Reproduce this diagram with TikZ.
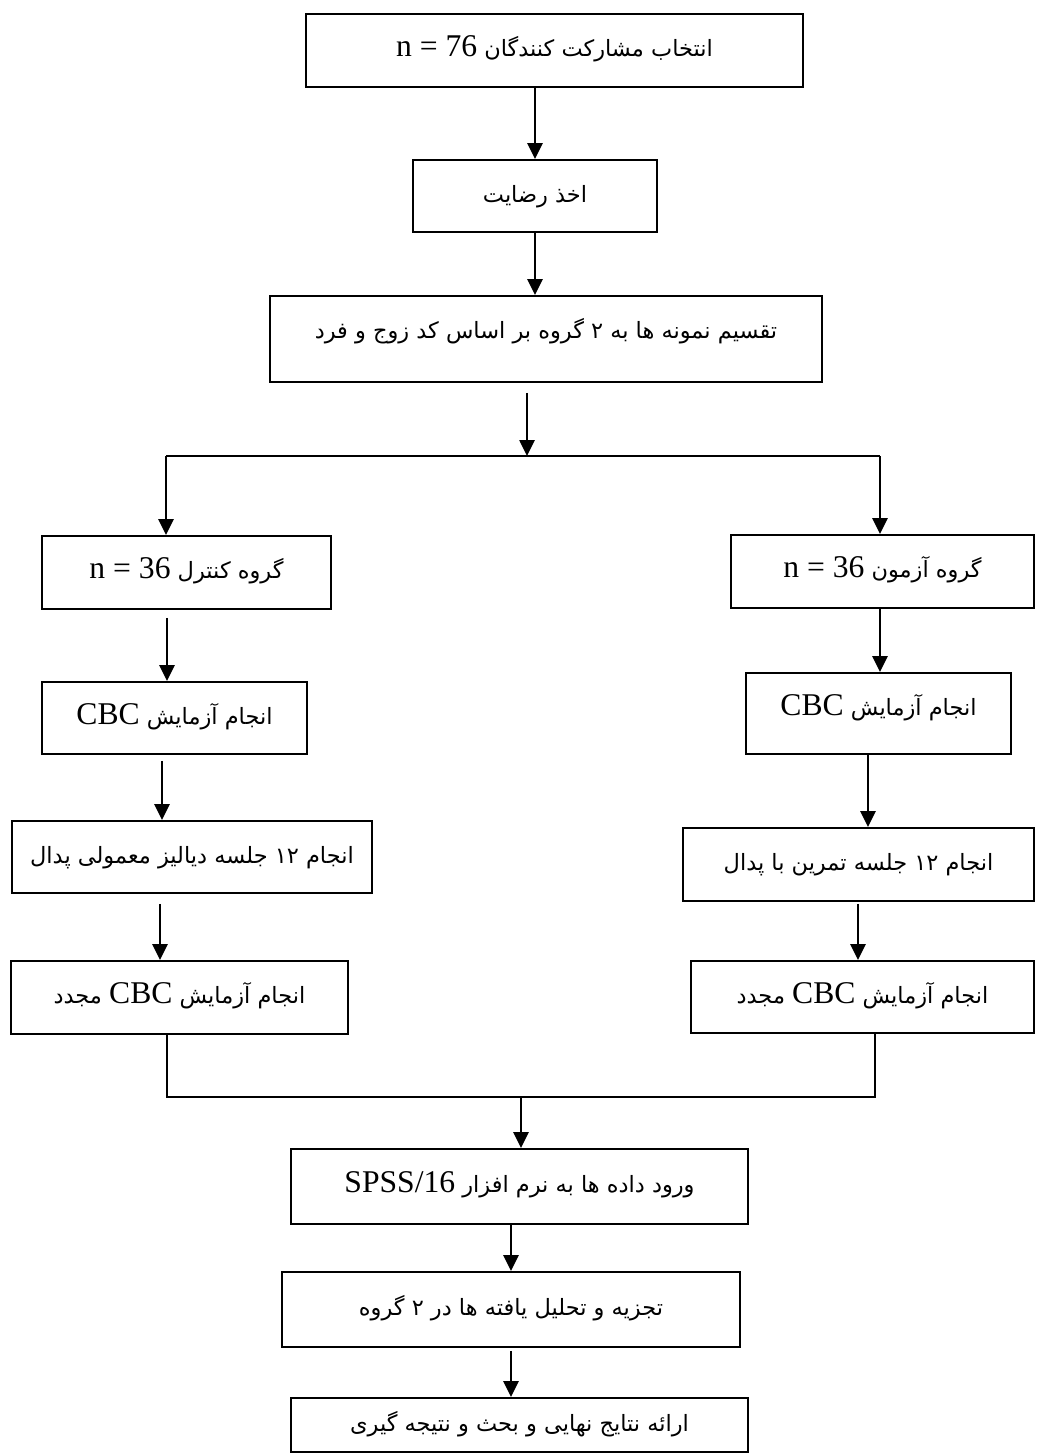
\documentclass[tikz,border=0pt]{standalone}
\usepackage{fontspec}
\setmainfont{Liberation Serif}
\newfontfamily\fa[Script=Arabic,Scale=0.71]{DejaVu Sans}
\TeXXeTstate=1
\usetikzlibrary{calc,arrows.meta}
\newcommand{\ltr}[1]{\beginL{\rmfamily #1}\endL}

\begin{document}
\begin{tikzpicture}[
        box/.style={draw, line width=1.1pt, inner sep=0pt, text height=0.4cm, text depth=0.15cm},
        arr/.style={line width=1.5pt, -{Triangle[length=0.32cm,width=0.3cm]}},
        conn/.style={line width=0.85pt},
        font=\fontsize{18}{21}\selectfont
    ]
            \useasboundingbox (0,0) rectangle (20.72,-29.10);

            \node (pick) at (11.09,-1.01) [box, minimum width=9.94cm, minimum height=1.46cm] {\fa\beginR انتخاب مشارکت کنندگان \ltr{n = 76}\endR};
            \node (consent) at (10.70,-3.92) [box, minimum width=4.88cm, minimum height=1.44cm] {\fa\beginR اخذ رضایت\endR};
            \node (split) at (10.92,-6.78) [box, minimum width=11.04cm, minimum height=1.72cm, text depth=0.44cm] {\fa\beginR تقسیم نمونه ها به ۲ گروه بر اساس کد زوج و فرد\endR};

            \node (ctl) at (3.73,-11.45) [box, minimum width=5.78cm, minimum height=1.46cm] {\fa\beginR گروه کنترل \ltr{n = 36}\endR};
            \node (ctlcbc) at (3.49,-14.36) [box, minimum width=5.30cm, minimum height=1.44cm] {\fa\beginR انجام آزمایش \ltr{CBC}\endR};
            \node (ctldial) at (3.84,-17.14) [box, minimum width=7.20cm, minimum height=1.44cm] {\fa\beginR انجام \beginL۱۲\endL{} جلسه دیالیز معمولی پدال\endR};
            \node (ctlre) at (3.59,-19.95) [box, minimum width=6.74cm, minimum height=1.46cm] {\fa\beginR انجام آزمایش \ltr{CBC} مجدد\endR};

            \node (tst) at (17.65,-11.43) [box, minimum width=6.06cm, minimum height=1.46cm] {\fa\beginR گروه آزمون \ltr{n = 36}\endR};
            \node (tstcbc) at (17.57,-14.27) [box, minimum width=5.30cm, minimum height=1.62cm, text depth=0.34cm] {\fa\beginR انجام آزمایش \ltr{CBC}\endR};
            \node (tstex) at (17.17,-17.29) [box, minimum width=7.02cm, minimum height=1.46cm] {\fa\beginR انجام \beginL۱۲\endL{} جلسه تمرین با پدال\endR};
            \node (tstre) at (17.25,-19.94) [box, minimum width=6.86cm, minimum height=1.44cm] {\fa\beginR انجام آزمایش \ltr{CBC} مجدد\endR};

            \node (spss) at (10.39,-23.73) [box, minimum width=9.14cm, minimum height=1.50cm] {\fa\beginR ورود داده ها به نرم افزار \ltr{SPSS/16}\endR};
            \node (ana) at (10.22,-26.19) [box, minimum width=9.16cm, minimum height=1.50cm] {\fa\beginR تجزیه و تحلیل یافته ها در ۲ گروه\endR};
            \node (fin) at (10.39,-28.50) [box, minimum width=9.14cm, minimum height=1.08cm] {\fa\beginR ارائه نتایج نهایی و بحث و نتیجه گیری\endR};

            \coordinate (fork) at (10.54,-9.12);
            \coordinate (forkL) at (3.32,-9.12);
            \coordinate (forkR) at (17.60,-9.12);
            \coordinate (join) at (10.42,-21.94);
            \coordinate (joinL) at (3.34,-21.94);
            \coordinate (joinR) at (17.50,-21.94);

            \draw [arr] (pick.south -| consent.north) -- (consent.north);
            \draw [arr] (consent.south) -- (consent.south |- split.north);
            \draw [arr] ($(split.south -| fork)+(0,-0.2)$) -- (fork);
            \draw [conn] (forkL) -- (forkR);
            \draw [arr] (forkL) -- (forkL |- ctl.north);
            \draw [arr] (forkR) -- (forkR |- tst.north);

            \foreach \a/\b/\x/\g in {ctl/ctlcbc/3.34/0.16, ctlcbc/ctldial/3.24/0.12, ctldial/ctlre/3.20/0.2,
                                     tst/tstcbc/17.60/0, tstcbc/tstex/17.36/0, tstex/tstre/17.16/0.04}
                {
                    \path (\x,0) coordinate (c);
                    \draw [arr] ($(\a.south -| c)+(0,-\g)$) -- (\b.north -| c);
                }

                \draw [conn] (ctlre.south -| joinL) -- (joinL) -- (joinR) -- (tstre.south -| joinR);
                \draw [arr] (join) -- (join |- spss.north);
                \draw [arr] (spss.south -| ana.north) -- (ana.north);
                \draw [arr] ($(ana.south)+(0,-0.06)$) -- (ana.south |- fin.north);

        \end{tikzpicture}
\end{document}
